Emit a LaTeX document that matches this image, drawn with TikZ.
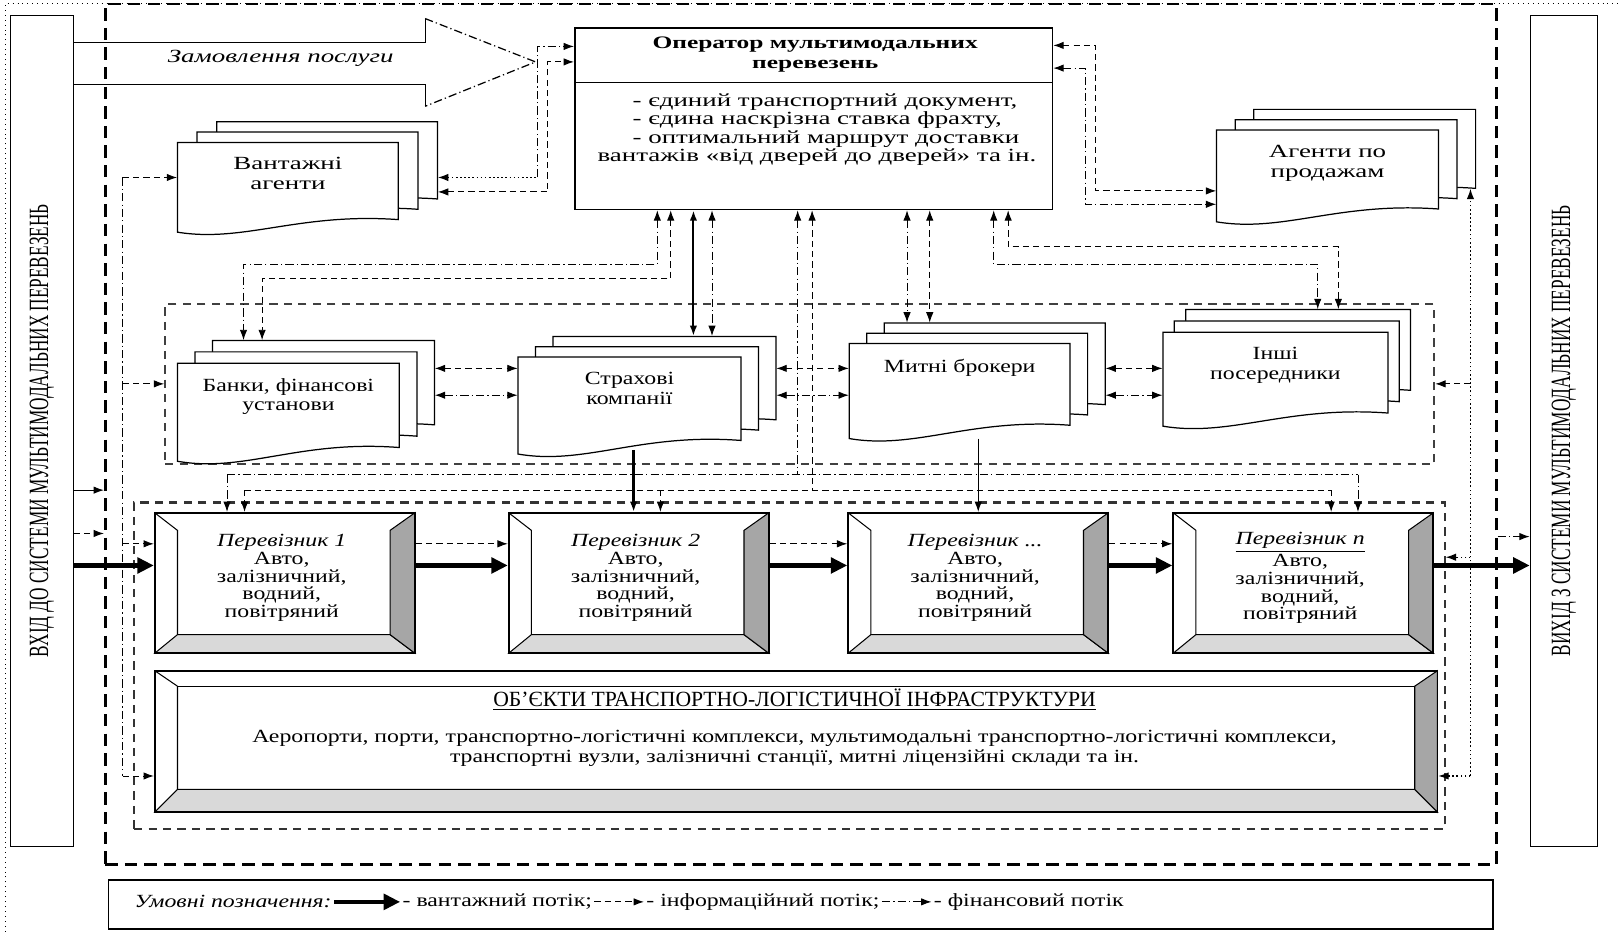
\documentclass[tikz,border=0pt]{standalone}
\usepackage{fontspec}
\setmainfont{Liberation Serif}
\newfontfamily\wideserif[FakeStretch=1.45]{Liberation Serif}
\newfontfamily\semiserif[FakeStretch=1.28]{Liberation Serif}
\newfontfamily\barserif[FakeStretch=0.62]{Liberation Serif}
\usetikzlibrary{positioning, arrows.meta, fit}

% one page of a document shape: left, top, width, height
\newcommand{\docpage}[4]{%
  \pgfmathsetmacro{\docR}{#1+#3}%
  \pgfmathsetmacro{\docB}{#2+#4}%
  \pgfmathsetmacro{\docE}{#2+0.86*#4}%
  \pgfmathsetmacro{\docAx}{#1+0.55*#3}%
  \pgfmathsetmacro{\docAy}{#2+0.78*#4}%
  \pgfmathsetmacro{\docBx}{#1+0.3*#3}%
  \pgfmathsetmacro{\docBy}{#2+1.12*#4}%
  \draw[docline] (#1,#2) -- (\docR,#2) -- (\docR,\docE) .. controls (\docAx,\docAy) and (\docBx,\docBy) .. (#1,\docB) -- cycle;}

% three stacked pages: name, left, top, width, height, dx, dy, text style, text
\newcommand{\docstack}[9]{%
  \docpage{#2+2*#6}{#3-2*#7}{#4}{#5}%
  \docpage{#2+#6}{#3-#7}{#4}{#5}%
  \docpage{#2}{#3}{#4}{#5}%
  \node[docfit, fit={(#2+2*#6,#3-2*#7) (#2+2*#6+#4,#3-2*#7+0.86*#5)}] (#1back) {};%
  \node[docfit, fit={(#2,#3) (#2+#4,#3+0.86*#5)}] (#1) {};%
  \node[#8, anchor=north] (#1name) at ([yshift=-4pt]#1.north) {#9};}

% bevelled box: name, L, T, R, B, left, top, right, bottom depth
\newcommand{\bevelbox}[9]{%
  \fill[white] (#2,#3) rectangle (#4,#5);
  \filldraw[bevel, fill=gray!30] (#2,#5) -- (#2+#6,#5-#9) -- (#4-#8,#5-#9) -- (#4,#5) -- cycle;
  \filldraw[bevel, fill=gray!70] (#4,#3) -- (#4-#8,#3+#7) -- (#4-#8,#5-#9) -- (#4,#5) -- cycle;
  \draw[bevel] (#2,#3) -- (#2+#6,#3+#7) -- (#2+#6,#5-#9);
  \node[frame, line width=0.9pt, fit={(#2,#3) (#4,#5)}] (#1) {};}

\begin{document}
\begin{tikzpicture}[x=0.5pt, y=-0.5pt, >={Latex[length=5pt,width=3.6pt]},
    info/.style={line width=0.45pt, dash pattern=on 3pt off 2pt},
    fin/.style={line width=0.45pt, dash pattern=on 4pt off 1.5pt on 0.6pt off 1.5pt},
    dotline/.style={line width=0.6pt, dash pattern=on 0.8pt off 1.2pt},
    cargo/.style={line width=2.2pt, -{Triangle[length=8pt,width=7.5pt]}},
    frame/.style={draw, inner sep=0pt},
    docline/.style={draw, fill=white, line width=0.6pt},
    docfit/.style={inner sep=0pt},
    bevel/.style={draw, line width=0.5pt},
    widetext/.style={align=center, font=\wideserif\fontsize{9}{9.5}\selectfont},
    semitext/.style={align=center, font=\semiserif\fontsize{9}{9.5}\selectfont},
    carriertext/.style={align=center, font=\semiserif\fontsize{9}{8.6}\selectfont},
    legendtext/.style={font=\semiserif\fontsize{9}{10}\selectfont, inner sep=1pt}]
  \useasboundingbox (0,0) rectangle (1568,903);
  \draw[dotted, line width=0.4pt] (5,903) -- (5,3) -- (1568,3);

  % system boundaries
  \node[frame, line width=1.3pt, dash pattern=on 6pt off 3.5pt, fit={(102,4) (1450,838)}] (system) {};
  \node[frame, line width=0.6pt, fit={(10,15) (71,820)}] (inbar) {};
  \node[frame, line width=0.6pt, fit={(1483,15) (1548,820)}] (outbar) {};
  \node[rotate=90, font=\barserif\fontsize{13.5}{14}\selectfont] (inbartext) at (inbar.center) {ВХІД ДО СИСТЕМИ МУЛЬТИМОДАЛЬНИХ ПЕРЕВЕЗЕНЬ};
  \node[rotate=90, font=\barserif\fontsize{13.5}{14}\selectfont] (outbartext) at (outbar.center) {ВИХІД З СИСТЕМИ МУЛЬТИМОДАЛЬНИХ ПЕРЕВЕЗЕНЬ};

  % service order
  \draw[line width=0.6pt] (412,18) -- (412,41) -- (71,41);
  \draw[line width=0.6pt] (71,82) -- (412,82) -- (412,103);
  \draw[fin, line width=0.6pt] (412,18) -- (519,60) -- (412,103);
  \node[font=\wideserif\itshape\fontsize{9}{10}\selectfont] (order) at (272,57) {Замовлення послуги};

  % operator
  \node[frame, line width=0.8pt, fit={(557,27) (1020,203)}] (operator) {};
  \draw[line width=0.6pt] (operator.west |- 0,80) -- (operator.east |- 0,80);
  \node[align=center, font=\wideserif\bfseries\fontsize{8.5}{10}\selectfont] (operatortitle) at (790,53) {Оператор мультимодальних\\перевезень};
  \node[align=left, anchor=north west, font=\wideserif\fontsize{9}{8.8}\selectfont] (operatorduties) at (572,84)
    {\hspace*{17pt}- єдиний транспортний документ,\\ \hspace*{17pt}- єдина наскрізна ставка фрахту,\\ \hspace*{17pt}- оптимальний маршрут доставки\\ вантажів «від дверей до дверей» та ін.};

  % agents and intermediaries
  \docstack{cargoagents}{172}{138}{214}{87}{19}{10}{widetext}{Вантажні\\агенти}
  \docstack{salesagents}{1179}{126}{215}{89}{18}{10}{widetext}{Агенти по\\продажам}
  \node[frame, line width=0.9pt, draw=black!75, dash pattern=on 4pt off 3pt, fit={(160,295) (1390,450)}] (midframe) {};
  \docstack{banks}{172}{352}{215}{95}{17}{11}{semitext}{Банки, фінансові\\установи}
  \docstack{insurance}{502}{346}{216}{94}{17}{10}{semitext}{Страхові\\компанії}
  \docstack{brokers}{823}{333}{214}{92}{17}{10}{semitext}{Митні брокери}
  \docstack{others}{1127}{322}{218}{91}{11}{11}{semitext}{Інші\\посередники}

  % carriers
  \node[frame, line width=1pt, draw=black!80, dash pattern=on 4pt off 3pt, fit={(130,487) (1400,803)}] (carrierframe) {};
  \foreach \cname/\cl/\ctitle in {carrier1/150/{Перевізник 1}, carrier2/493/{Перевізник 2}, carrierdots/822/{Перевізник ...}, carriern/1137/{\underline{Перевізник n}}} {
    \bevelbox{\cname}{\cl}{497}{\cl+252}{633}{22}{17}{24}{18}
    \node[carriertext] (\cname name) at ([xshift=-1.5pt,yshift=2.5pt]\cname.center) {{\itshape \ctitle}\\Авто,\\залізничний,\\водний,\\повітряний};
  }

  % infrastructure
  \bevelbox{infra}{150}{650}{1393}{787}{22}{15}{22}{22}
  \draw[bevel] (172,665) -- (1371,665);
  \node[font=\fontsize{10.5}{12}\selectfont] (infratitle) at (770,678) {\underline{ОБ’ЄКТИ ТРАНСПОРТНО-ЛОГІСТИЧНОЇ ІНФРАСТРУКТУРИ}};
  \node[semitext] (infratext) at (770,725) {Аеропорти, порти, транспортно-логістичні комплекси, мультимодальні транспортно-логістичні комплекси,\\транспортні вузли, залізничні станції, митні ліцензійні склади та ін.};

  % operator links, top
  \coordinate (cargoturn) at (521,172);
  \draw[dotline,<-] (cargoagentsback.east |- cargoturn) -- (cargoturn);
  \draw[fin,->] (cargoturn) |- (operator.west |- 0,45);
  \draw[info,<->] (cargoagentsback.east |- 0,186) -| (531,60) -- (operator.west |- 0,60);
  \draw[info,<->] (operator.east |- 0,44) -| (1062,185) -- (salesagents.west |- 0,185);
  \draw[fin,<->] (operator.east |- 0,66) -| (1052,198) -- (salesagents.west |- 0,198);

  % operator links, bottom
  \draw[fin,<->] (operator.south -| 637,0) |- (236,256) -- (banksback.north -| 236,0);
  \draw[info,<->] (operator.south -| 650,0) |- (254,270) -- (banksback.north -| 254,0);
  \draw[line width=1pt,<->] (operator.south -| 672,0) -- (insuranceback.north -| 672,0);
  \draw[fin,<->] (operator.south -| 690,0) -- (insuranceback.north -| 690,0);
  \draw[fin,<->] (operator.south -| 879,0) -- (brokersback.north -| 879,0);
  \draw[info,<->] (operator.south -| 901,0) -- (brokersback.north -| 901,0);
  \draw[fin,<->] (operator.south -| 963,0) |- (1277,256) -- (othersback.north -| 1277,0);
  \draw[info,<->] (operator.south -| 977,0) |- (1297,239) -- (othersback.north -| 1297,0);

  % operator to carriers
  \draw[fin,<-] (operator.south -| 773,0) -- (773,460);
  \draw[info,<-] (operator.south -| 787,0) -- (787,475);
  \draw[fin] (220,460) -- (1316,460);
  \draw[info] (237,475) -- (1290,475);
  \draw[fin,->] (220,460) -- (carrier1.north -| 220,0);
  \draw[info,->] (237,475) -- (carrier1.north -| 237,0);
  \draw[line width=1.2pt,->] (614,436) -- (carrier2.north -| 614,0);
  \draw[info,->] (640,475) -- (carrier2.north -| 640,0);
  \draw[line width=0.5pt,->] (948,425) -- (carrierdots.north -| 948,0);
  \draw[info,->] (1290,475) -- (carriern.north -| 1290,0);
  \draw[fin,->] (1316,460) -- (carriern.north -| 1316,0);

  % intermediaries among themselves
  \draw[info,<->] (banksback.east |- 0,357) -- (insurance.west |- 0,357);
  \draw[fin,<->] (banksback.east |- 0,383) -- (insurance.west |- 0,383);
  \draw[info,<->] (insuranceback.east |- 0,357) -- (brokers.west |- 0,357);
  \draw[fin,<->] (insuranceback.east |- 0,383) -- (brokers.west |- 0,383);
  \draw[info,<->] (brokersback.east |- 0,357) -- (others.west |- 0,357);
  \draw[fin,<->] (brokersback.east |- 0,383) -- (others.west |- 0,383);

  % left bus
  \coordinate (leftbustop) at (119,172);
  \coordinate (leftbusbot) at (119,752);
  \draw[fin] (leftbustop) -- (leftbusbot);
  \draw[info,->] (leftbustop) -- (cargoagents.west |- leftbustop);
  \draw[info,->] (119,372) -- (midframe.west |- 0,372);
  \draw[info,->] (119,527) -- (carrier1.west |- 0,527);
  \draw[info,->] (leftbusbot) -- (infra.west |- leftbusbot);

  % right bus
  \coordinate (rightbusbot) at (1425,752);
  \draw[dotline,->] (rightbusbot) -- (rightbusbot |- salesagentsback.south);
  \draw[info,->] (1425,372) -- (midframe.east |- 0,372);
  \draw[dotline,->] (1425,540) -- (carrierframe.east |- 0,540);
  \draw[dotline,->] (rightbusbot) -- (infra.east |- rightbusbot);

  % entry and exit
  \draw[line width=0.5pt,->] (inbar.east |- 0,475) -- (system.west |- 0,475);
  \draw[info,->] (inbar.east |- 0,517) -- (system.west |- 0,517);
  \draw[cargo] (inbar.east |- 0,548) -- (carrier1.west |- 0,548);
  \foreach \a/\b in {carrier1/carrier2, carrier2/carrierdots, carrierdots/carriern} {
    \draw[info,->] (\a.east |- 0,527) -- (\b.west |- 0,527);
    \draw[cargo] (\a.east |- 0,548) -- (\b.west |- 0,548);
  }
  \draw[cargo] (carriern.east |- 0,548) -- (outbar.west |- 0,548);
  \draw[fin,->] (system.east |- 0,520) -- (outbar.west |- 0,520);

  % legend
  \node[frame, line width=0.8pt, fit={(105,853) (1447,900)}] (legend) {};
  \node[legendtext, anchor=west] (legendtitle) at (128,874) {\itshape Умовні позначення:};
  \node[legendtext, right=32pt of legendtitle] (cargokey) {- вантажний потік;};
  \node[legendtext, right=24pt of cargokey] (infokey) {- інформаційний потік;};
  \node[legendtext, right=24pt of infokey] (finkey) {- фінансовий потік};
  \draw[cargo] (legendtitle.east) -- (cargokey.west);
  \draw[info,->] (cargokey.east) -- (infokey.west);
  \draw[fin,->] (infokey.east) -- (finkey.west);
\end{tikzpicture}
\end{document}
